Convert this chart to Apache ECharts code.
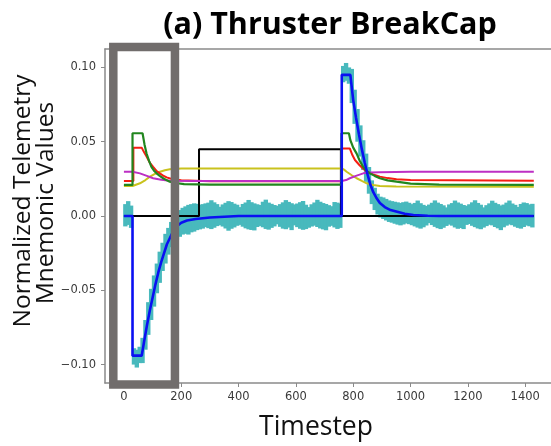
<!DOCTYPE html>
<html>
<head>
<meta charset="utf-8">
<script src="https://cdn.jsdelivr.net/npm/echarts@6/dist/echarts.min.js"></script>
<style>html,body{margin:0;padding:0;background:#fff}#c{width:551px;height:446px}</style>
</head>
<body>
<div id="c"></div>
<script>
// ---- data ----
const titleText = '(a) Thruster BreakCap';
const xName = 'Timestep';
const yNameLines = ['Normalized Telemetry', 'Mnemonic Values'];
const xTicks = [0, 200, 400, 600, 800, 1000, 1200, 1400];
const yTicks = [-0.10, -0.05, 0.00, 0.05, 0.10];
const xRange = [-66, 1490];
const yRange = [-0.1124, 0.1124];
const highlightX = [-37, 178];
const highlightY = [0.1137, -0.1134];
const cyanBinWidth = 10;

// noisy raw telemetry: [timestep, low, high] of each 10-step bin
const cyanBand = [
[5,-0.007,0.008],[15,-0.006,0.010],[25,-0.008,0.007],
[35,-0.100,-0.089],[45,-0.102,-0.090],[55,-0.099,-0.088],
[65,-0.099,-0.082],[75,-0.090,-0.070],[85,-0.080,-0.058],[95,-0.070,-0.049],[105,-0.061,-0.040],[115,-0.052,-0.032],
[125,-0.045,-0.024],[135,-0.037,-0.018],[145,-0.032,-0.012],[155,-0.026,-0.008],[165,-0.021,-0.004],[175,-0.019,-0.001],
[185,-0.016,0.002],[195,-0.014,0.004],[205,-0.0125,0.0055],[215,-0.012,0.0065],[225,-0.0125,0.0075],[235,-0.0110,0.0080],
[245,-0.0105,0.0085],[255,-0.0095,0.0082],[265,-0.0090,0.0075],[275,-0.0085,0.0080],
[285,-0.0075,0.0085],[295,-0.0082,0.0090],[305,-0.0088,0.0106],[315,-0.0079,0.0092],[325,-0.0068,0.0080],[335,-0.0062,0.0062],
[345,-0.0071,0.0078],[355,-0.0084,0.0089],[365,-0.0099,0.0100],[375,-0.0086,0.0094],[385,-0.0077,0.0083],[395,-0.0066,0.0076],
[405,-0.0060,0.0060],[415,-0.0072,0.0081],[425,-0.0083,0.0091],[435,-0.0090,0.0108],[445,-0.0094,0.0093],[455,-0.0097,0.0085],
[465,-0.0074,0.0079],[475,-0.0067,0.0074],[485,-0.0076,0.0096],[495,-0.0087,0.0110],[505,-0.0092,0.0090],[515,-0.0080,0.0082],
[525,-0.0070,0.0074],[535,-0.0056,0.0069],[545,-0.0073,0.0080],[555,-0.0085,0.0092],[565,-0.0089,0.0107],[575,-0.0078,0.0095],
[585,-0.0095,0.0086],[595,-0.0063,0.0078],[605,-0.0075,0.0084],[615,-0.0086,0.0093],[625,-0.0093,0.0101],[635,-0.0088,0.0076],
[645,-0.0079,0.0060],[655,-0.0071,0.0079],[665,-0.0065,0.0091],[675,-0.0074,0.0109],[685,-0.0084,0.0096],[695,-0.0090,0.0087],
[705,-0.0096,0.0081],[715,-0.0072,0.0073],[725,-0.0066,0.0066],[735,-0.0077,0.0094],[745,-0.0087,0.0090],[755,-0.0080,0.0083],
[765,0.090,0.101],[775,0.091,0.103],[785,0.089,0.100],[795,0.076,0.099],[805,0.062,0.085],[815,0.050,0.072],
[825,0.040,0.061],[835,0.031,0.051],[845,0.023,0.042],[855,0.015,0.033],[865,0.008,0.024],[875,0.004,0.019],
[885,0.001,0.015],[895,-0.001,0.013],[905,-0.002,0.0125],[915,-0.003,0.0115],[925,-0.004,0.0105],[935,-0.0045,0.0100],
[945,-0.0052,0.0096],[955,-0.0058,0.0092],[965,-0.0063,0.0088],[975,-0.0057,0.0093],[985,-0.0050,0.0097],[995,-0.0055,0.0089],
[1005,-0.0062,0.0080],[1015,-0.0070,0.0088],[1025,-0.0078,0.0104],[1035,-0.0085,0.0086],[1045,-0.0076,0.0075],[1055,-0.0064,0.0068],
[1065,-0.0048,0.0077],[1075,-0.0061,0.0089],[1085,-0.0073,0.0105],[1095,-0.0082,0.0090],[1105,-0.0088,0.0081],[1115,-0.0079,0.0072],
[1125,-0.0067,0.0058],[1135,-0.0058,0.0078],[1145,-0.0065,0.0087],[1155,-0.0077,0.0104],[1165,-0.0086,0.0091],[1175,-0.0081,0.0083],
[1185,-0.0088,0.0074],[1195,-0.0060,0.0069],[1205,-0.0054,0.0079],[1215,-0.0066,0.0092],[1225,-0.0075,0.0106],[1235,-0.0084,0.0088],
[1245,-0.0089,0.0076],[1255,-0.0078,0.0058],[1265,-0.0068,0.0073],[1275,-0.0059,0.0085],[1285,-0.0063,0.0103],[1295,-0.0074,0.0089],
[1305,-0.0083,0.0080],[1315,-0.0095,0.0071],[1325,-0.0076,0.0077],[1335,-0.0065,0.0090],[1345,-0.0057,0.0104],[1355,-0.0062,0.0084],
[1365,-0.0072,0.0075],[1375,-0.0080,0.0061],[1385,-0.0085,0.0081],[1395,-0.0074,0.0091],[1405,-0.0064,0.0087],[1415,-0.0069,0.0078],
[1425,-0.0077,0.0082]
];

const blue = [
[0,0],[30,0],[30,-0.094],[62,-0.094],[70,-0.085],[80,-0.074],[90,-0.064],[100,-0.055],[110,-0.046],[120,-0.038],
[130,-0.031],[140,-0.025],[150,-0.019],[160,-0.015],[170,-0.011],[180,-0.008],[190,-0.006],[200,-0.0045],[220,-0.003],[250,-0.002],
[300,-0.001],[400,0],[760,0],[760,0.095],[790,0.095],[800,0.078],[810,0.066],[820,0.055],[830,0.045],[840,0.036],
[850,0.028],[860,0.021],[870,0.016],[880,0.0125],[893,0.0087],[910,0.006],[930,0.004],[950,0.003],[980,0.0015],[1010,0.0007],
[1060,0.0002],[1100,0],[1430,0]
];

const black = [[0,0],[262,0],[262,0.045],[757,0.045],[757,0],[1430,0]];

const green = [
[0,0.0209],[30,0.0209],[30,0.0557],[65,0.0557],[72,0.048],[79,0.042],[88,0.037],[96,0.033],[105,0.0305],[114,0.0287],
[125,0.027],[137,0.0254],[150,0.024],[160,0.0231],[180,0.0222],[210,0.0214],[300,0.0211],[759,0.0211],[759,0.0557],[785,0.0557],
[790,0.051],[800,0.046],[812,0.042],[823,0.037],[835,0.033],[846,0.0305],[858,0.0287],[875,0.027],[893,0.0254],[920,0.024],
[951,0.0231],[1000,0.0218],[1100,0.0211],[1430,0.0209]
];

const red = [
[0,0.0236],[33,0.0236],[33,0.046],[62,0.046],[70,0.043],[79,0.040],[90,0.036],[102,0.033],[113,0.0305],[125,0.0287],
[137,0.0272],[149,0.026],[170,0.0247],[200,0.024],[300,0.0234],[759,0.0234],[759,0.0455],[788,0.0455],[797,0.041],[806,0.0377],
[823,0.034],[835,0.0318],[847,0.0298],[870,0.028],[893,0.0265],[920,0.0255],[951,0.0247],[1000,0.0242],[1430,0.0238]
];

const magenta = [
[0,0.0298],[30,0.0298],[56,0.0287],[80,0.027],[102,0.0254],[130,0.0244],[160,0.0237],[250,0.0236],[760,0.0236],[775,0.0242],
[788,0.0254],[812,0.0272],[835,0.0287],[860,0.0292],[893,0.0295],[1000,0.0297],[1430,0.0298]
];

const yellow = [
[0,0.0202],[30,0.0202],[56,0.022],[75,0.0242],[91,0.0265],[108,0.0283],[126,0.0298],[143,0.0308],[160,0.0314],[200,0.0319],
[300,0.032],[760,0.032],[768,0.0312],[777,0.0298],[795,0.0274],[812,0.0254],[830,0.0236],[847,0.022],[870,0.0209],[893,0.0202],
[950,0.0198],[1430,0.0197]
];

// ---- chart ----
const chart = echarts.init(document.getElementById('c'), null, {renderer: 'canvas'});
const axisColor = '#8a8a8a';
const cyanColor = '#48b9bd';
function line(name, data, color, width, z) {
  return {name, type: 'line', data, showSymbol: false, symbol: 'none', animation: false,
    lineStyle: {color, width}, itemStyle: {color}, z, xAxisIndex: 0, yAxisIndex: 0};
}
const option = {
  backgroundColor: '#fff',
  animation: false,
  grid: {left: 105, right: 0, top: 49, bottom: 63, containLabel: false},
  xAxis: [{
    type: 'value', min: xRange[0], max: xRange[1], position: 'bottom',
    axisLine: {show: true, onZero: false, lineStyle: {color: axisColor, width: 1.5}},
    axisTick: {show: true, length: 4, customValues: xTicks, lineStyle: {color: axisColor}},
    axisLabel: {customValues: xTicks, margin: 8, color: '#3a3a3a', fontSize: 11.5, fontFamily: 'DejaVu Sans',
      formatter: v => String(v)},
    splitLine: {show: false}
  }, {
    type: 'value', min: xRange[0], max: xRange[1], position: 'top',
    axisLine: {show: true, onZero: false, lineStyle: {color: axisColor, width: 1.5}},
    axisTick: {show: false}, axisLabel: {show: false}, splitLine: {show: false}
  }],
  yAxis: {
    type: 'value', min: yRange[0], max: yRange[1],
    axisLine: {show: true, onZero: false, lineStyle: {color: axisColor, width: 1.5}},
    axisTick: {show: true, length: 4, customValues: yTicks, lineStyle: {color: axisColor}},
    axisLabel: {customValues: yTicks, margin: 9, color: '#3a3a3a', fontSize: 11.5, fontFamily: 'DejaVu Sans',
      formatter: v => (v < 0 ? '\u2212' : '') + Math.abs(v).toFixed(2)},
    splitLine: {show: false}
  },
  series: [
    {
      name: 'cyan', type: 'custom', xAxisIndex: 0, yAxisIndex: 0, z: 1, animation: false,
      data: cyanBand, encode: {x: 0, y: [1, 2]},
      renderItem: function (params, api) {
        const t = api.value(0), lo = api.value(1), hi = api.value(2);
        const top = api.coord([t, hi]);
        const bot = api.coord([t, lo]);
        const w = api.size([cyanBinWidth, 0])[0] + 1.5;
        return {type: 'rect', shape: {x: top[0] - w / 2, y: top[1], width: w, height: bot[1] - top[1]},
          style: {fill: cyanColor}};
      }
    },
    line('black', black, '#000000', 2, 2),
    line('yellow', yellow, '#c9c21d', 2, 3),
    line('red', red, '#f51d12', 2, 4),
    line('magenta', magenta, '#bd2fc4', 2, 5),
    line('green', green, '#21861e', 2.2, 6),
    line('blue', blue, '#0a10f2', 2.6, 7)
  ],
  graphic: [
    {id: 'title', type: 'text', x: 330, y: 25, z: 100,
      style: {text: titleText, fill: '#000', font: 'bold 30.5px "Open Sans"', textAlign: 'center', textVerticalAlign: 'middle'}},
    {id: 'xname', type: 'text', x: 316, y: 427, z: 100,
      style: {text: xName, fill: '#111', font: '26.5px "Open Sans"', textAlign: 'center', textVerticalAlign: 'middle'}},
    {id: 'yname1', type: 'text', x: 23, y: 201, rotation: Math.PI / 2, z: 100,
      style: {text: yNameLines[0], fill: '#111', font: '24.5px "Open Sans"', textAlign: 'center', textVerticalAlign: 'middle'}},
    {id: 'yname2', type: 'text', x: 46, y: 203, rotation: Math.PI / 2, z: 100,
      style: {text: yNameLines[1], fill: '#111', font: '24.5px "Open Sans"', textAlign: 'center', textVerticalAlign: 'middle'}}
  ]
};
chart.setOption(option);
const p1 = chart.convertToPixel({xAxisIndex: 0, yAxisIndex: 0}, [highlightX[0], highlightY[0]]);
const p2 = chart.convertToPixel({xAxisIndex: 0, yAxisIndex: 0}, [highlightX[1], highlightY[1]]);
chart.setOption({graphic: [{id: 'box', type: 'rect', z: 90,
  shape: {x: p1[0], y: p1[1], width: p2[0] - p1[0], height: p2[1] - p1[1]},
  style: {fill: 'none', stroke: '#716d6c', lineWidth: 8.5}}]});
</script>
</body>
</html>
